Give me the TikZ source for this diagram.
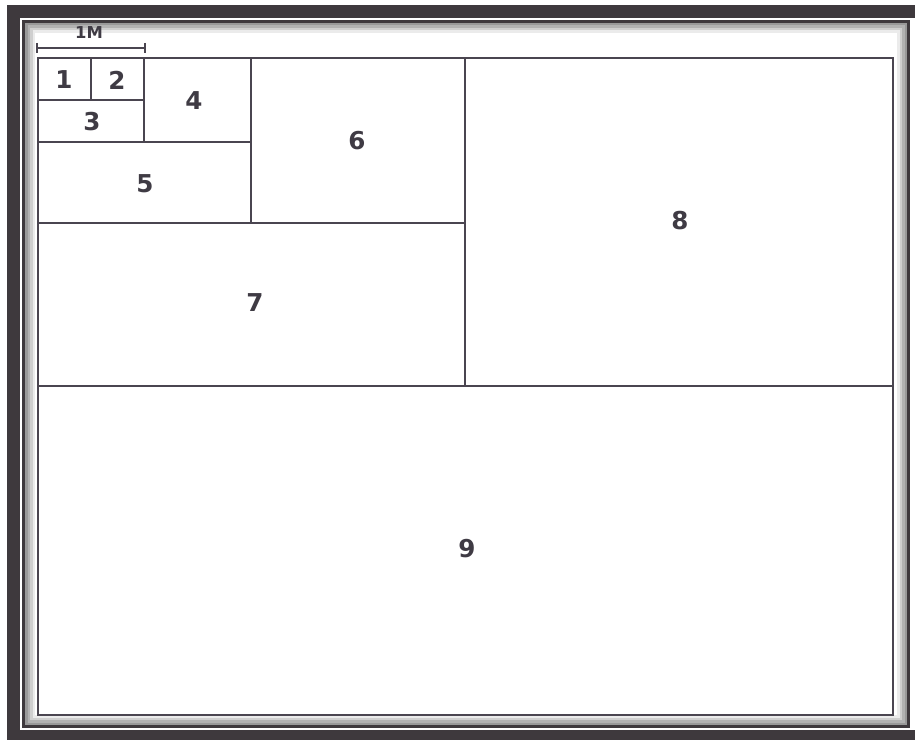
\documentclass[tikz,border=0pt]{standalone}
\usepackage{fontspec}
\setsansfont{DejaVu Sans}
\definecolor{ink}{HTML}{4A4550}
\definecolor{rim}{HTML}{3E393D}
\tikzset{
  cell/.style={draw=ink,line width=1.6pt},
  num/.style={font=\sffamily\bfseries\fontsize{21}{21}\selectfont,text=ink!85!black},
  tag/.style={font=\sffamily\bfseries\fontsize{14}{14}\selectfont,text=ink!85!black}
}
\begin{document}
\begin{tikzpicture}[x=0.03cm,y=-0.03cm]
\useasboundingbox (0,0) rectangle (915,740);
\clip (0,0) rectangle (915,740);
% screen rim
\fill[white] (0,0) rectangle (915,740);
\fill[rim] (7,5) rectangle (930,752);
\fill[white] (20,18) rectangle (930,730);
\fill[rim] (22,20) rectangle (910,728);
\fill[gray!80] (25,23) rectangle (907,725);
\fill[gray!60] (27.5,25.5) rectangle (904.5,722.5);
\fill[gray!38] (30,28) rectangle (902,720);
\fill[gray!16] (32.5,30.5) rectangle (899.5,717.5);
\fill[white] (35,33) rectangle (897,715);
% scale bar
\node[tag] (scale) at (89,33) {1M};
\draw[cell,line width=1.3pt] (37,48) -- (145,48);
\draw[cell,line width=1.3pt] (37,43) -- (37,53) (145,43) -- (145,53);
% plan
\draw[cell] (38,58) rectangle (893,715);
\draw[cell] (465,58) -- (465,386) (38,386) -- (893,386);
\draw[cell] (251,58) -- (251,223) (38,223) -- (465,223);
\draw[cell] (144,58) -- (144,142) (38,142) -- (251,142);
\draw[cell] (91,58) -- (91,100) (38,100) -- (144,100);
\node[num] (n1) at (64,80) {1};
\node[num] (n2) at (117,80) {2};
\node[num] (n3) at (92,122) {3};
\node[num] (n4) at (194,101) {4};
\node[num] (n5) at (145,184) {5};
\node[num] (n6) at (357,141) {6};
\node[num] (n7) at (255,303) {7};
\node[num] (n8) at (680,221) {8};
\node[num] (n9) at (467,549) {9};
\end{tikzpicture}
\end{document}
